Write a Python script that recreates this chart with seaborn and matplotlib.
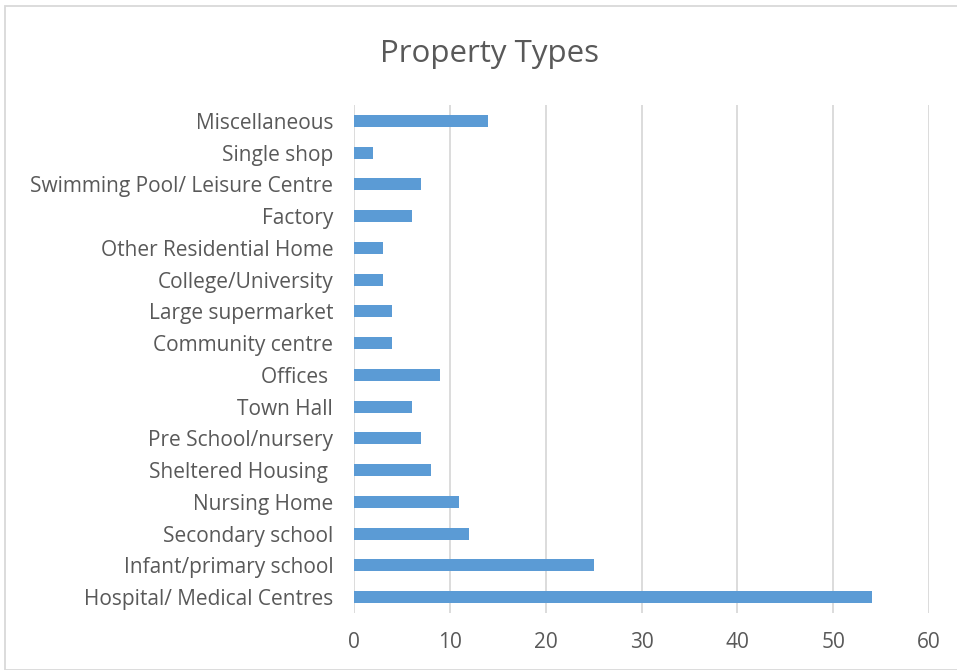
import matplotlib
matplotlib.use("Agg")
import matplotlib.pyplot as plt
import seaborn as sns
import pandas as pd
from matplotlib.patches import Rectangle

categories = [
    "Miscellaneous",
    "Single shop",
    "Swimming Pool/ Leisure Centre",
    "Factory",
    "Other Residential Home",
    "College/University",
    "Large supermarket",
    "Community centre",
    "Offices ",
    "Town Hall",
    "Pre School/nursery",
    "Sheltered Housing ",
    "Nursing Home",
    "Secondary school",
    "Infant/primary school",
    "Hospital/ Medical Centres",
]
values = [14, 2, 7, 6, 3, 3, 4, 4, 9, 6, 7, 8, 11, 12, 25, 54]
xticks = [0, 10, 20, 30, 40, 50, 60]

sns.set_theme(style="white")
plt.rcParams["font.family"] = ["Open Sans", "DejaVu Sans"]

df = pd.DataFrame({"category": categories, "value": values})

fig = plt.figure(figsize=(9.57, 6.70), dpi=100)
ax = fig.add_axes([354 / 957, 1 - 613 / 670, (929 - 354) / 957, (613 - 105) / 670])

sns.barplot(data=df, y="category", x="value", orient="h", color="#5B9BD5",
            width=0.38, linewidth=0, saturation=1, ax=ax, order=categories)

ax.set_xlim(0, 60)
ax.set_ylim(15.5, -0.5)
ax.set_xticks(xticks)
ax.set_xticklabels([str(t) for t in xticks])
ax.xaxis.grid(True, color="#D9D9D9", linewidth=1.3)
ax.set_axisbelow(True)
for s in ax.spines.values():
    s.set_visible(False)
ax.set_xlabel("")
ax.set_ylabel("")
ax.tick_params(axis="both", length=0, colors="#595959", labelsize=15)
ax.tick_params(axis="y", pad=15)
ax.tick_params(axis="x", pad=14)

fig.text(489 / 957, 1 - 54 / 670, "Property Types", ha="center", va="center",
         fontsize=22.5, color="#595959")

fig.patches.append(Rectangle((5 / 957, 0.0), 1.0, 1 - 6 / 670, transform=fig.transFigure,
                             fill=False, edgecolor="#D9D9D9", linewidth=1.3))

fig.savefig("out.png", dpi=100)
